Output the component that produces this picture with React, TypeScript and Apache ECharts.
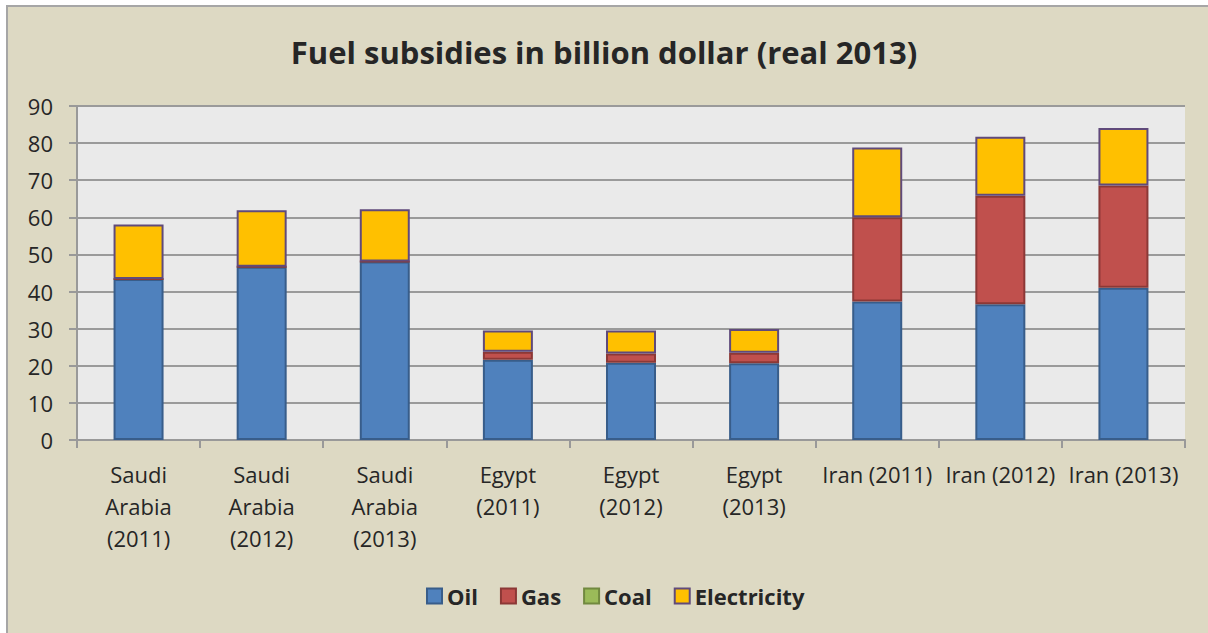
import React, { useEffect, useRef } from "react";
import * as echarts from "echarts";

const categories = [
  "Saudi\nArabia\n(2011)",
  "Saudi\nArabia\n(2012)",
  "Saudi\nArabia\n(2013)",
  "Egypt\n(2011)",
  "Egypt\n(2012)",
  "Egypt\n(2013)",
  "Iran (2011)",
  "Iran (2012)",
  "Iran (2013)",
];
const oil = [43.4, 46.7, 48.1, 21.6, 20.8, 20.7, 37.3, 36.6, 41.0];
const gas = [0, 0, 0, 2.2, 2.5, 2.8, 22.7, 29.2, 27.6];
const coal = [0, 0, 0, 0, 0, 0, 0, 0, 0];
const electricity = [14.7, 15.2, 14.1, 5.7, 6.2, 6.4, 18.8, 15.9, 15.5];
const yTicks = { min: 0, max: 90, interval: 10 };

const FONT = "'Open Sans', 'Noto Sans', sans-serif";
const TEXT = "#262626";

export default function App() {
  const ref = useRef<HTMLDivElement>(null);
  useEffect(() => {
    if (!ref.current) return;
    const chart = echarts.init(ref.current, null, { renderer: "svg" });
    const bar = (name: string, data: number[], color: string, border: string, bw = 2) => ({
      name,
      type: "bar",
      stack: "total",
      data,
      barWidth: 50,
      itemStyle: { color, borderColor: border, borderWidth: bw },
    });
    chart.setOption({
      animation: false,
      backgroundColor: "#ffffff",
      textStyle: { fontFamily: FONT, color: TEXT },
      graphic: [
        {
          type: "rect",
          z: -10,
          shape: { x: 7, y: 6, width: 1201, height: 627 },
          style: { fill: "#ddd9c3", lineWidth: 0 },
        },
        {
          type: "polyline",
          z: -9,
          shape: { points: [[7, 633], [7, 6], [1208, 6]] },
          style: { stroke: "#a6a6a6", lineWidth: 2, fill: null },
        },
      ],
      title: {
        text: "Fuel subsidies in billion dollar (real 2013)",
        left: "center",
        top: 31,
        textStyle: { fontFamily: FONT, fontWeight: "bold", fontSize: 31, color: TEXT },
      },
      legend: {
        left: 421,
        top: 580,
        itemWidth: 15,
        itemHeight: 15,
        itemGap: 22,
        icon: "rect",
        textStyle: { fontFamily: FONT, fontWeight: "bold", fontSize: 22, color: TEXT },
        data: [
          { name: "Oil" },
          { name: "Gas" },
          { name: "Coal", itemStyle: { borderColor: "#71893f", borderWidth: 2 } },
          { name: "Electricity" },
        ],
      },
      grid: {
        left: 77,
        right: 23,
        top: 106,
        bottom: 193,
        show: true,
        backgroundColor: "#eaeaea",
        borderWidth: 0,
      },
      xAxis: {
        type: "category",
        data: categories,
        axisLine: { lineStyle: { color: "#999999", width: 2 } },
        axisTick: { show: true, length: 8, lineStyle: { color: "#999999", width: 2 } },
        axisLabel: {
          interval: 0,
          margin: 18,
          fontSize: 22,
          lineHeight: 32,
          color: TEXT,
          fontFamily: FONT,
        },
      },
      yAxis: {
        type: "value",
        min: yTicks.min,
        max: yTicks.max,
        interval: yTicks.interval,
        axisLine: { show: true, lineStyle: { color: "#999999", width: 2 } },
        axisTick: { show: true, length: 8, lineStyle: { color: "#999999", width: 2 } },
        splitLine: { lineStyle: { color: "#9a9a9a", width: 2 } },
        axisLabel: { margin: 24, fontSize: 22, color: TEXT, fontFamily: FONT },
      },
      series: [
        bar("Oil", oil, "#4f81bd", "#385d8a"),
        bar("Gas", gas, "#c0504d", "#8c3836"),
        bar("Coal", coal, "#9bbb59", "#71893f", 0),
        bar("Electricity", electricity, "#ffc000", "#604a7b"),
      ],
    });
    return () => chart.dispose();
  }, []);
  return (
    <div
      ref={ref}
      style={{ position: "fixed", left: 0, top: 0, width: 1208, height: 633 }}
    />
  );
}
